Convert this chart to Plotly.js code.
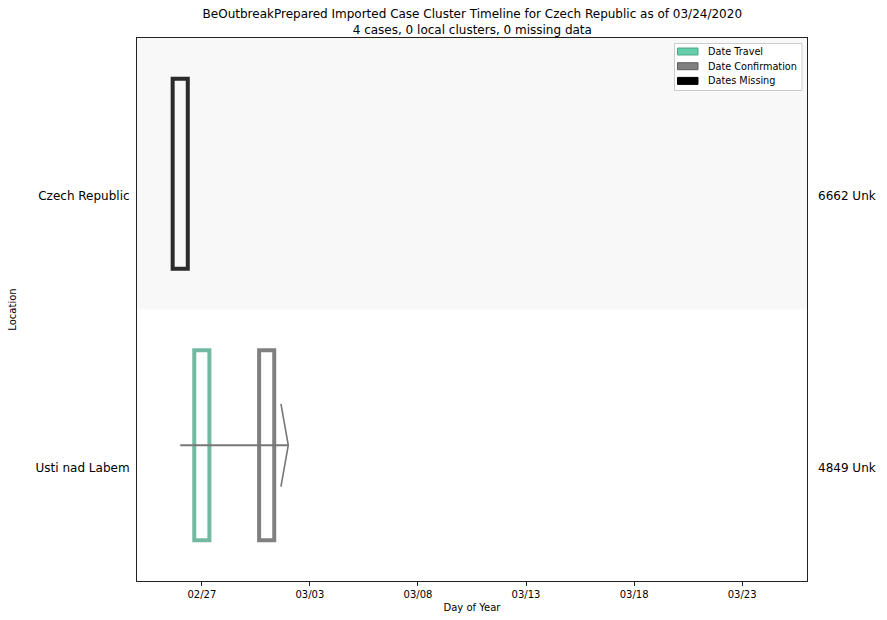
<!DOCTYPE html>
<html>
<head>
<meta charset="utf-8">
<script src="https://cdn.plot.ly/plotly-3.0.1.min.js"></script>
<style>html,body{margin:0;padding:0;background:#fff;}#chart{width:887px;height:620px;}</style>
</head>
<body>
<div id="chart"></div>
<script>
// ---- data ----
const locations = ["Czech Republic", "Usti nad Labem"];
const caseLabels = ["6662 Unk", "4849 Unk"];

const travelLocations = ["Usti nad Labem"];
const travelDates = ["2020-02-27"];

const confirmLocations = ["Usti nad Labem"];
const confirmDates = ["2020-03-01"];

const missingLocations = ["Czech Republic"];
const missingDates = ["2020-02-26"];

const arrowLocations = ["Usti nad Labem"];
const arrowStarts = ["2020-02-26"];
const arrowEnds = ["2020-03-02"];

const legendNames = ["Date Travel", "Date Confirmation", "Dates Missing"];
const legendFills = ["#66cdaa", "#808080", "#000000"];
const legendEdges = ["#4aa889", "#5e5e5e", "#000000"];

const xTickVals = ["2020-02-27", "2020-03-03", "2020-03-08", "2020-03-13", "2020-03-18", "2020-03-23"];
const xTickText = ["02/27", "03/03", "03/08", "03/13", "03/18", "03/23"];
const xRange = ["2020-02-24", "2020-03-26"];

// ---- helpers ----
const DAY = 86400000;
const BOX_W = 0.7 * DAY;
const BOX_H = 0.7;
const LABEL_OFF = 0.082;
const yIdx = name => locations.indexOf(name);
const shiftDate = (d, ms) => new Date(new Date(d + "T00:00:00Z").getTime() + ms).toISOString().slice(0, 19);

function boxTrace(dates, locs, color) {
  return {
    type: "bar", x: dates, y: locs.map(() => BOX_H), base: locs.map(l => yIdx(l) - BOX_H / 2),
    width: dates.map(() => BOX_W), showlegend: false, hoverinfo: "skip",
    marker: { color: "rgba(0,0,0,0)", line: { color: color, width: 4 } }
  };
}

const traces = [];
traces.push(boxTrace(missingDates, missingLocations, "#2b2b2b"));
traces.push(boxTrace(travelDates, travelLocations, "#72b9a0"));
traces.push(boxTrace(confirmDates, confirmLocations, "#808080"));

arrowStarts.forEach((s, i) => {
  const y = yIdx(arrowLocations[i]);
  traces.push({ type: "scatter", mode: "lines", x: [s, arrowEnds[i]], y: [y, y],
    line: { color: "#777777", width: 2 }, showlegend: false, hoverinfo: "skip" });
  const back = shiftDate(arrowEnds[i], -0.34 * DAY);
  traces.push({ type: "scatter", mode: "lines", x: [back, arrowEnds[i], back], y: [y - 0.152, y, y + 0.152],
    line: { color: "#777777", width: 1.6 }, showlegend: false, hoverinfo: "skip" });
});

// ---- layout geometry (pixels -> paper) ----
const M = { l: 137, r: 80, t: 38, b: 39 };
const PW = 887 - M.l - M.r, PH = 620 - M.t - M.b;
const px = x => (x - M.l) / PW;
const py = y => (620 - M.b - y) / PH;

const shapes = [{ type: "rect", xref: "paper", yref: "y", x0: 0, x1: 1, y0: -0.5, y1: 0.5,
  fillcolor: "#f8f8f8", line: { width: 0 }, layer: "below" }];

// manual legend
shapes.push({ type: "rect", xref: "paper", yref: "paper", x0: px(674.5), x1: px(802), y0: py(43.5), y1: py(90.5),
  fillcolor: "#ffffff", line: { color: "#cccccc", width: 1 } });
const annotations = [];
legendNames.forEach((n, i) => {
  const cy = 51.5 + i * 14.7;
  shapes.push({ type: "rect", xref: "paper", yref: "paper", x0: px(677.5), x1: px(698), y0: py(cy - 3.5), y1: py(cy + 3.5),
    fillcolor: legendFills[i], line: { color: legendEdges[i], width: 1 } });
  annotations.push({ xref: "paper", yref: "paper", x: px(705.5), y: py(cy), xanchor: "left", yanchor: "middle",
    text: n, showarrow: false, font: { family: "DejaVu Sans", size: 9.7, color: "#000" } });
});

caseLabels.forEach((t, i) => annotations.push({
  xref: "paper", yref: "y", x: 1, y: i + LABEL_OFF, xanchor: "left", xshift: 9, text: t, showarrow: false,
  font: { family: "DejaVu Sans", size: 12, color: "#000" }
}));

const layout = {
  width: 887, height: 620,
  margin: M,
  paper_bgcolor: "#ffffff", plot_bgcolor: "#ffffff",
  font: { family: "DejaVu Sans", size: 10, color: "#000" },
  barmode: "overlay",
  showlegend: false,
  title: {
    text: "BeOutbreakPrepared Imported Case Cluster Timeline for Czech Republic as of 03/24/2020<br>4 cases, 0 local clusters, 0 missing data",
    font: { family: "DejaVu Sans", size: 12, color: "#000" },
    x: 0.5325, xanchor: "center", xref: "container", yref: "container", y: 0.971, yanchor: "top"
  },
  xaxis: {
    type: "date", range: xRange, tickvals: xTickVals, ticktext: xTickText,
    ticks: "outside", ticklen: 4, tickcolor: "#222", tickwidth: 1,
    showgrid: false, zeroline: false, showline: true, mirror: true, linecolor: "#222", linewidth: 1,
    tickfont: { family: "DejaVu Sans", size: 10, color: "#000" },
    title: { text: "Day of Year", font: { family: "DejaVu Sans", size: 10, color: "#000" }, standoff: 4 }
  },
  yaxis: {
    range: [1.5, -0.5], tickvals: locations.map((_, i) => i + LABEL_OFF), ticktext: locations,
    ticks: "", ticklabelstandoff: 4, showgrid: false, zeroline: false, showline: true, mirror: true, linecolor: "#222", linewidth: 1,
    tickfont: { family: "DejaVu Sans", size: 12, color: "#000" },
    title: { text: "Location", font: { family: "DejaVu Sans", size: 10, color: "#000" }, standoff: 17 }
  },
  shapes: shapes,
  annotations: annotations
};

Plotly.newPlot("chart", traces, layout, { displayModeBar: false, staticPlot: true });
</script>
</body>
</html>
